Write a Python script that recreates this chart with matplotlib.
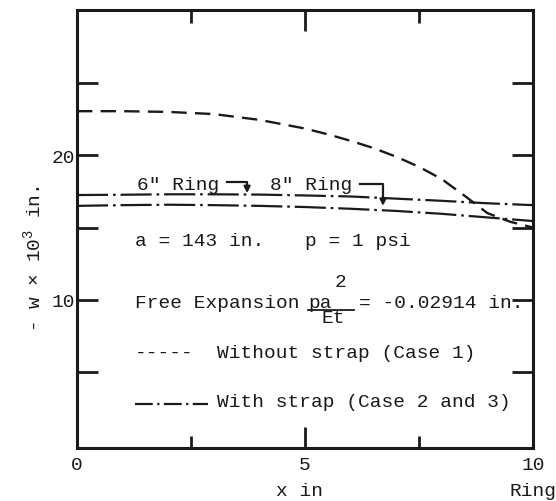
import matplotlib
matplotlib.use('Agg')
import matplotlib.pyplot as plt
from matplotlib.lines import Line2D

plt.rcParams['font.family'] = ['Liberation Mono', 'DejaVu Sans Mono']
plt.rcParams['mathtext.fontset'] = 'custom'
plt.rcParams['mathtext.rm'] = 'Liberation Mono'
plt.rcParams['mathtext.default'] = 'rm'

# Case 1, without strap
x_case1 = [0, 1, 2, 3, 4, 5, 5.5, 6, 6.5, 7, 7.5, 8, 8.5, 9, 9.5, 10]
w_case1 = [23.05, 23.05, 23.0, 22.85, 22.45, 21.85, 21.45, 21.0, 20.5,
           19.9, 19.2, 18.35, 17.2, 16.0, 15.4, 15.0]

# with strap, 6" ring and 8" ring
x_strap = [0, 1, 2, 3, 4, 5, 6, 7, 8, 9, 10]
w_ring6 = [17.25, 17.27, 17.3, 17.3, 17.28, 17.22, 17.15, 17.0, 16.85, 16.68, 16.55]
w_ring8 = [16.5, 16.55, 16.58, 16.55, 16.5, 16.42, 16.3, 16.15, 15.95, 15.7, 15.45]

x_ticks = [0, 5, 10]
x_minor = [2.5, 7.5]
y_ticks = [5, 10, 15, 20, 25]
y_labels = ['', '10', '', '20', '']

ink = '#1a1a1a'
W, H = 556, 502
fig = plt.figure(figsize=(W / 100, H / 100), dpi=100)
ax = fig.add_axes([77 / W, 1 - 449 / H, (533 - 77) / W, (449 - 11) / H])

ax.plot(x_case1, w_case1, color=ink, lw=1.7, linestyle=(0, (6.5, 3.5)))
dashdot = (0, (14, 2.2, 1.2, 2.2))
ax.plot(x_strap, w_ring6, color=ink, lw=1.6, linestyle=dashdot)
ax.plot(x_strap, w_ring8, color=ink, lw=1.6, linestyle=dashdot)

ax.set_xlim(0, 10)
ax.set_ylim(-0.25, 30.05)
ax.set_xticks(x_ticks)
ax.set_xticklabels(['0', '5', '10'])
ax.set_xticks(x_minor, minor=True)
ax.set_yticks(y_ticks)
ax.set_yticklabels(y_labels)
ax.tick_params(which='both', direction='in', top=True, right=True,
               width=2.0, color=ink, labelcolor=ink, labelsize=14)
ax.tick_params(axis='y', length=15, pad=1.5)
ax.tick_params(axis='x', which='major', length=15, pad=6)
ax.tick_params(axis='x', which='minor', length=9)
for s in ax.spines.values():
    s.set_linewidth(2.2)
    s.set_color(ink)

fs = 14
txt = dict(fontsize=fs, color=ink, va='baseline', ha='left')
ax.text(1.32, 17.67, '6" Ring', **txt)
ax.text(4.23, 17.67, '8" Ring', **txt)
ax.plot([3.29, 3.73, 3.73], [18.15, 18.15, 17.75], color=ink, lw=1.6)
ax.annotate('', xy=(3.73, 17.38), xytext=(3.73, 17.8),
            arrowprops=dict(arrowstyle='-|>', color=ink, lw=1.6,
                            mutation_scale=9, shrinkA=0, shrinkB=0))
ax.plot([6.21, 6.71, 6.71], [18.01, 18.01, 17.0], color=ink, lw=1.6)
ax.annotate('', xy=(6.71, 16.5), xytext=(6.71, 17.05),
            arrowprops=dict(arrowstyle='-|>', color=ink, lw=1.6,
                            mutation_scale=9, shrinkA=0, shrinkB=0))

ax.text(1.27, 13.8, 'a = 143 in.', **txt)
ax.text(5.0, 13.8, 'p = 1 psi', **txt)

ax.text(1.27, 9.51, 'Free Expansion', **txt)
ax.text(5.08, 9.51, 'pa', **txt)
ax.text(5.66, 10.95, '2', **txt)
ax.plot([5.06, 6.07], [9.33, 9.33], color=ink, lw=1.3)
ax.text(5.36, 8.45, 'Et', **txt)
ax.text(6.18, 9.51, '= -0.02914 in.', **txt)

ax.text(1.27, 6.05, '-----', **txt)
ax.text(3.07, 6.05, 'Without strap (Case 1)', **txt)
ax.add_line(Line2D([1.27, 2.87], [2.8, 2.8], color=ink, lw=1.6,
                   linestyle=(0, (8, 2, 1, 2))))
ax.text(3.07, 2.66, 'With strap (Case 2 and 3)', **txt)

fig.text(300 / W, 1 - 492 / H, 'x in', fontsize=fs, color=ink,
         ha='center', va='center')
fig.text(533 / W, 1 - 492 / H, 'Ring', fontsize=fs, color=ink,
         ha='center', va='center')
fig.text(33 / W, 1 - 259 / H, r'- w $\times$ 10$^3$ in.', fontsize=fs,
         color=ink, ha='center', va='center', rotation=90)

fig.savefig('out.png', dpi=100)
